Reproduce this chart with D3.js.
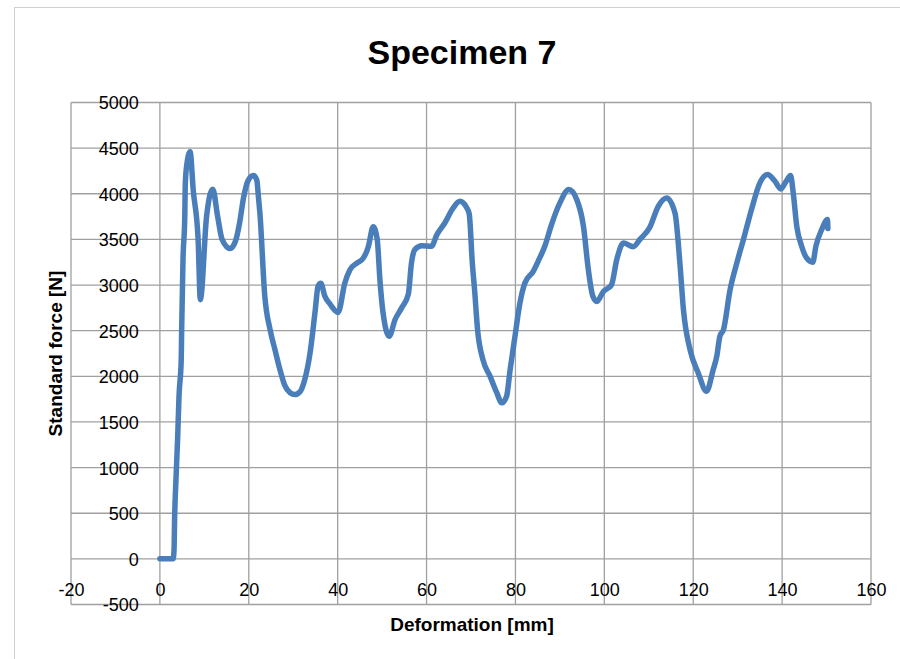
<!DOCTYPE html>
<html>
<head>
<meta charset="utf-8">
<script src="https://cdn.jsdelivr.net/npm/d3@7"></script>
<style>
  body { margin: 0; background: #fff; }
  svg { display: block; }
  text { font-family: "Liberation Sans", Arial, sans-serif; fill: #000; }
</style>
</head>
<body>
<script>
// deformation [mm] and standard force [N]
var deformation = [0, 3.0, 3.2, 3.3, 3.6, 4.0, 4.3, 4.8, 4.9, 5.2, 5.6, 5.7, 6.0, 6.8, 7.5, 8.6, 9.1,
  10.5, 11.9, 13.0, 14.0, 15.8, 17.0, 18.0, 18.8, 19.9, 21.0, 21.8, 22.2, 22.5, 23.6, 24.8,
  25.9, 27.0, 28.1, 29.3, 30.4, 31.5, 32.6, 33.8, 34.9, 35.6, 36.2, 37.1, 38.3, 40.1, 41.6,
  42.8, 44.3, 45.7, 46.9, 48.0, 48.9, 49.5, 50.2, 51.6, 52.9, 54.4, 55.9, 56.6, 57.4, 58.9,
  61.1, 62.3, 64.1, 66.0, 67.5, 69.0, 69.6, 70.3, 70.8, 71.5, 72.7, 74.3, 75.8, 76.9, 78.0,
  78.8, 79.9, 81.0, 82.1, 84.0, 85.1, 86.6, 88.1, 90.0, 92.0, 93.8, 95.3, 96.4, 97.4, 98.3,
  99.8, 101.6, 102.8, 104.3, 106.5, 108.0, 110.3, 112.1, 114.0, 115.9, 117.0, 117.8, 119.3,
  121.1, 123.0, 124.5, 125.3, 126.0, 126.8, 128.3, 129.8, 131.3, 133.1, 135.0, 136.7, 138.4,
  139.7, 140.9, 141.9, 142.5, 143.3, 144.4, 145.5, 146.9, 147.6, 148.9, 150.2, 150.3];
var force = [0, 0, 120, 410, 850, 1330, 1780, 2180, 2510, 3280, 3750, 4080, 4300, 4460, 4040, 3500, 2840,
  3750, 4050, 3750, 3500, 3400, 3480, 3700, 3950, 4150, 4200, 4150, 3950, 3790, 2880, 2510,
  2290, 2075, 1900, 1820, 1800, 1830, 1966, 2260, 2700, 2990, 3020, 2880, 2790, 2700, 3020,
  3170, 3240, 3290, 3420, 3640, 3500, 3060, 2700, 2440, 2620, 2750, 2900, 3240, 3390, 3430,
  3425, 3550, 3680, 3845, 3917, 3850, 3780, 3240, 2950, 2500, 2180, 2000, 1820, 1710, 1780,
  2070, 2440, 2800, 3020, 3150, 3260, 3425, 3660, 3900, 4046, 3936, 3644, 3170, 2880, 2820,
  2930, 3000, 3280, 3460, 3420, 3500, 3640, 3860, 3955, 3790, 3240, 2730, 2290,
  2040, 1836, 2074, 2220, 2440, 2510, 2950, 3240, 3500, 3826, 4119, 4210, 4137,
  4053, 4137, 4200, 4010, 3644, 3425, 3297, 3250, 3425, 3607, 3717, 3620];

var xTicks = [-20, 0, 20, 40, 60, 80, 100, 120, 140, 160];
var yTicks = [-500, 0, 500, 1000, 1500, 2000, 2500, 3000, 3500, 4000, 4500, 5000];

var W = 900, H = 659;
var plot = { left: 71, right: 871, top: 102.5, bottom: 604.5 };

var x = d3.scaleLinear().domain([-20, 160]).range([plot.left, plot.right]);
var y = d3.scaleLinear().domain([-500, 5000]).range([plot.bottom, plot.top]);

var svg = d3.select("body").append("svg")
  .attr("width", W)
  .attr("height", H);

// chart area border
svg.append("rect")
  .attr("x", 14.5).attr("y", 7.5)
  .attr("width", W).attr("height", H)
  .attr("fill", "none")
  .attr("stroke", "#d0d0d0")
  .attr("stroke-width", 1);

var grid = svg.append("g").attr("stroke", "#a0a0a0").attr("stroke-width", 1.3);

grid.selectAll(".vgrid").data(xTicks).enter().append("line")
  .attr("class", "vgrid")
  .attr("x1", function (d) { return x(d); })
  .attr("x2", function (d) { return x(d); })
  .attr("y1", plot.top).attr("y2", plot.bottom);

grid.selectAll(".hgrid").data(yTicks).enter().append("line")
  .attr("class", "hgrid")
  .attr("x1", plot.left).attr("x2", plot.right)
  .attr("y1", function (d) { return y(d); })
  .attr("y2", function (d) { return y(d); });

var plain = function (d) { return String(d); };

// tick labels sit next to the axes that cross at zero
var xAxis = d3.axisBottom(x).tickValues(xTicks).tickFormat(plain).tickSize(0).tickPadding(0);
var gx = svg.append("g")
  .attr("transform", "translate(0," + y(0) + ")")
  .call(xAxis);
gx.select(".domain").remove();
gx.selectAll("text")
  .attr("dy", 0)
  .attr("y", 37)
  .style("font-size", "18px");

var yAxis = d3.axisLeft(y).tickValues(yTicks).tickFormat(plain).tickSize(0).tickPadding(0);
var gy = svg.append("g")
  .attr("transform", "translate(" + x(0) + ",0)")
  .call(yAxis);
gy.select(".domain").remove();
gy.selectAll("text")
  .attr("x", -21)
  .attr("dy", "0.36em")
  .style("font-size", "18px");
svg.selectAll(".tick text").style("font-family", "'Liberation Sans', Arial, sans-serif").attr("fill", "#000");

var line = d3.line()
  .x(function (d) { return x(d[0]); })
  .y(function (d) { return y(d[1]); })
  .curve(d3.curveMonotoneX);

svg.append("path")
  .datum(d3.zip(deformation, force))
  .attr("d", line)
  .attr("fill", "none")
  .attr("stroke", "#4a7ebb")
  .attr("stroke-width", 5.5)
  .attr("stroke-linejoin", "round")
  .attr("stroke-linecap", "round");

svg.append("text")
  .attr("x", 462).attr("y", 64)
  .attr("text-anchor", "middle")
  .style("font-size", "34px")
  .style("font-weight", "bold")
  .text("Specimen 7");

svg.append("text")
  .attr("x", 472).attr("y", 631)
  .attr("text-anchor", "middle")
  .style("font-size", "19px")
  .style("font-weight", "bold")
  .text("Deformation [mm]");

svg.append("text")
  .attr("transform", "translate(62," + ((plot.top + plot.bottom) / 2) + ") rotate(-90)")
  .attr("text-anchor", "middle")
  .style("font-size", "19px")
  .style("font-weight", "bold")
  .text("Standard force [N]");
</script>
</body>
</html>
